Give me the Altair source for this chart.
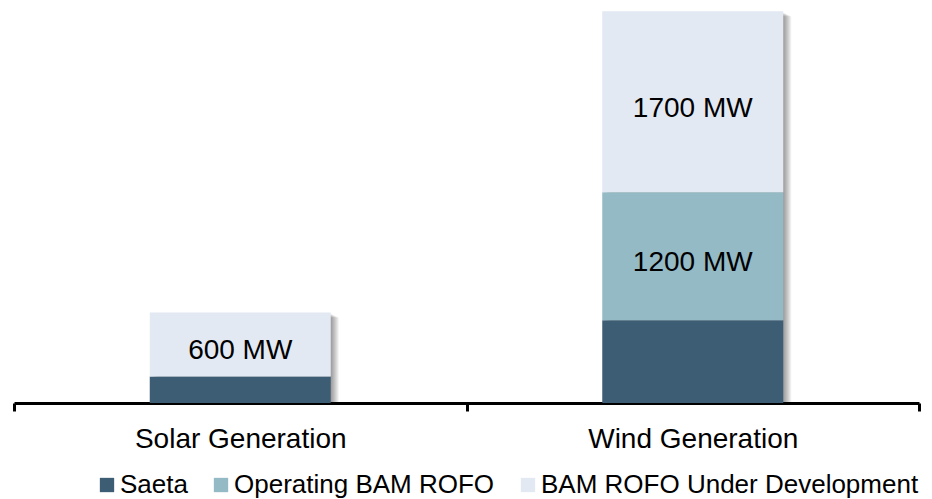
import altair as alt
import pandas as pd

# Installed capacity by technology (MW)
categories = ["Solar Generation", "Wind Generation"]
series = ["Saeta", "Operating BAM ROFO", "BAM ROFO Under Development"]
saeta = [250, 778]
operating_rofo = [0, 1200]
rofo_development = [600, 1700]
colors = ["#3c5d73", "#93bac5", "#e2e9f3"]

rows = []
for i, cat in enumerate(categories):
    for j, (name, vals) in enumerate(zip(series, [saeta, operating_rofo, rofo_development])):
        rows.append({"category": cat, "series": name, "order": j, "value": vals[i]})
df = pd.DataFrame(rows)

FONT = "Liberation Sans, Arial, sans-serif"
BAR_W = 181

x_enc = alt.X(
    "category:N",
    sort=categories,
    scale=alt.Scale(paddingInner=0, paddingOuter=0),
    axis=alt.Axis(
        title=None,
        labelAngle=0,
        labelFontSize=28,
        labelColor="#000000",
        labelFont=FONT,
        labelPadding=14,
        labelLimit=400,
        domainColor="#000000",
        domainWidth=3,
        tickColor="#000000",
        tickWidth=3,
        tickSize=8,
        tickBand="extent",
        grid=False,
    ),
)
y_scale = alt.Scale(domain=[0, 3700], nice=False)

base = alt.Chart(df)

# soft drop shadow on the right of each stacked column
shadows = []
for k in range(1, 9):
    shadows.append(
        base.transform_aggregate(total="sum(value)", groupby=["category"])
        .mark_bar(width=BAR_W, xOffset=k, yOffset=1 + k * 0.5, color="#000000", opacity=0.055)
        .encode(
            x=x_enc,
            y=alt.Y("total:Q", scale=y_scale, axis=None),
            y2=alt.datum(0),
        )
    )

bars = base.mark_bar(width=BAR_W).encode(
    x=x_enc,
    y=alt.Y("value:Q", stack="zero", scale=y_scale, axis=None),
    color=alt.Color(
        "series:N",
        sort=series,
        scale=alt.Scale(domain=series, range=colors),
        legend=alt.Legend(
            title=None,
            orient="none",
            legendX=80,
            legendY=463,
            direction="horizontal",
            symbolType="square",
            symbolSize=205,
            symbolStrokeWidth=0,
            symbolOpacity=1,
            labelFontSize=26,
            labelFont=FONT,
            labelColor="#000000",
            labelOffset=0,
            labelLimit=1000,
            columnPadding=20,
            padding=0,
        ),
    ),
    order=alt.Order("order:Q", sort="ascending"),
)

labels = (
    base.transform_stack(
        stack="value", groupby=["category"], as_=["v0", "v1"],
        sort=[alt.SortField("order", order="ascending")],
    )
    .transform_filter("datum.series != 'Saeta' && datum.value > 0")
    .transform_calculate(mid="(datum.v0 + datum.v1) / 2", label="datum.value + ' MW'")
    .mark_text(fontSize=28, font=FONT, color="#000000", dy=7)
    .encode(
        x=x_enc,
        y=alt.Y("mid:Q", scale=y_scale, axis=None),
        text="label:N",
    )
)

chart = (
    alt.layer(*shadows, bars, labels)
    .properties(
        width=905,
        height=394,
        padding={"left": 14, "top": 9, "right": 13, "bottom": 96},
        autosize=alt.AutoSizeParams(type="none"),
        background="#ffffff",
    )
    .configure_view(stroke=None)
)

chart.save("out.html", embed_options={"renderer": "svg", "actions": False})
